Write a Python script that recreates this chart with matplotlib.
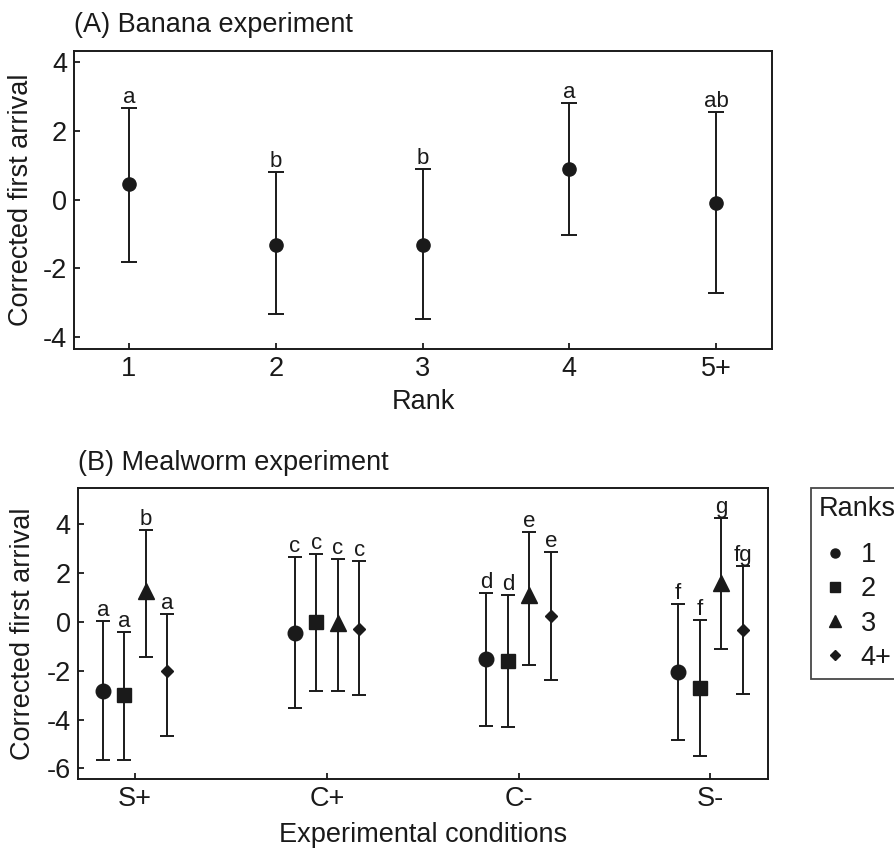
import numpy as np
import matplotlib.pyplot as plt
from matplotlib.lines import Line2D

plt.rcParams['font.family'] = ['Liberation Sans', 'DejaVu Sans']
plt.rcParams['axes.unicode_minus'] = False

# Panel A - banana experiment
ranks_a = ['1', '2', '3', '4', '5+']
mean_a = [0.44, -1.31, -1.31, 0.89, -0.10]
upper_a = [2.67, 0.79, 0.89, 2.81, 2.56]
lower_a = [-1.81, -3.32, -3.49, -1.04, -2.71]
letters_a = ['a', 'b', 'b', 'a', 'ab']

# Panel B - mealworm experiment
conditions = ['S+', 'C+', 'C-', 'S-']
rank_labels = ['1', '2', '3', '4+']
markers = ['o', 's', '^', 'D']
msizes = [10.5, 10, 12, 6.5]
leg_sizes = [6.5, 7, 8, 4.8]
mean_b = [[-2.85, -0.45, -1.53, -2.05],
          [-3.01, 0.00, -1.60, -2.70],
          [1.27, -0.04, 1.09, 1.60],
          [-2.01, -0.29, 0.23, -0.31]]
upper_b = [[0.03, 2.66, 1.19, 0.75],
           [-0.42, 2.79, 1.12, 0.10],
           [3.77, 2.58, 3.69, 4.28],
           [0.33, 2.51, 2.87, 2.30]]
lower_b = [[-5.64, -3.51, -4.25, -4.82],
           [-5.64, -2.83, -4.32, -5.49],
           [-1.45, -2.83, -1.75, -1.09],
           [-4.67, -3.01, -2.39, -2.94]]
letters_b = [['a', 'c', 'd', 'f'],
             ['a', 'c', 'd', 'f'],
             ['b', 'c', 'e', 'g'],
             ['a', 'c', 'e', 'fg']]
offsets = [-0.168, -0.056, 0.056, 0.168]

FS = 19.5
ink = '#1a1a1a'

fig = plt.figure(figsize=(8.94, 8.49), dpi=100)

def style_axes(ax):
    for s in ax.spines.values():
        s.set_linewidth(1.4)
        s.set_color(ink)
    ax.tick_params(direction='in', length=4, width=1.3, labelsize=FS, colors=ink,
                   top=False, right=False, pad=5)

# ---- (A)
axA = fig.add_axes([0.0828, 0.5889, 0.7807, 0.351])
xa = np.arange(1, len(ranks_a) + 1)
m = np.array(mean_a)
yerr = [m - np.array(lower_a), np.array(upper_a) - m]
axA.errorbar(xa, m, yerr=yerr, fmt='o', color=ink, ms=9.5, elinewidth=1.4,
             capsize=6, capthick=1.4)
for x, u, l in zip(xa, upper_a, letters_a):
    axA.annotate(l, (x, u), xytext=(0, 0), textcoords='offset points',
                 ha='center', va='bottom', fontsize=16, color=ink)
axA.set_xticks(xa)
axA.set_xticklabels(ranks_a)
axA.set_xlim(0.626, 5.38)
axA.set_ylim(-4.35, 4.32)
axA.set_yticks([-4, -2, 0, 2, 4])
axA.set_xlabel('Rank', fontsize=FS, color=ink)
axA.set_ylabel('Corrected first arrival', fontsize=FS, color=ink)
axA.xaxis.set_label_coords(0.5, -0.135)
axA.yaxis.set_label_coords(-0.058, 0.5)
style_axes(axA)
fig.text(0.0828, 0.970, '(A) Banana experiment', fontsize=FS, va='center', ha='left',
         color=ink)

# ---- (B)
axB = fig.add_axes([0.0869, 0.0821, 0.7721, 0.3428])
xb = np.arange(1, len(conditions) + 1)
for i in range(len(rank_labels)):
    m = np.array(mean_b[i])
    yerr = [m - np.array(lower_b[i]), np.array(upper_b[i]) - m]
    axB.errorbar(xb + offsets[i], m, yerr=yerr, fmt=markers[i], color=ink,
                 ms=msizes[i], elinewidth=1.4, capsize=5, capthick=1.4)
    for x, u, l in zip(xb + offsets[i], upper_b[i], letters_b[i]):
        axB.annotate(l, (x, u), xytext=(0, 0), textcoords='offset points',
                     ha='center', va='bottom', fontsize=16, color=ink)
axB.set_xticks(xb)
axB.set_xticklabels(conditions)
axB.set_xlim(0.70, 4.30)
axB.set_ylim(-6.45, 5.48)
axB.set_yticks([-6, -4, -2, 0, 2, 4])
axB.set_xlabel('Experimental conditions', fontsize=FS, color=ink)
axB.set_ylabel('Corrected first arrival', fontsize=FS, color=ink)
axB.xaxis.set_label_coords(0.5, -0.147)
axB.yaxis.set_label_coords(-0.061, 0.5)
style_axes(axB)
fig.text(0.0869, 0.4546, '(B) Mealworm experiment', fontsize=FS, va='center', ha='left',
         color=ink)

leg_handles = [Line2D([], [], marker=mk, ls='none', color=ink, ms=s)
               for mk, s in zip(markers, leg_sizes)]
leg = fig.legend(leg_handles, rank_labels, title='Ranks', loc='upper left',
                 bbox_to_anchor=(0.907, 0.4252), bbox_transform=fig.transFigure,
                 borderaxespad=0, fontsize=FS, title_fontsize=FS, frameon=True,
                 fancybox=False, edgecolor=ink, handlelength=1.2,
                 handletextpad=0.33, labelspacing=0.3, borderpad=0.3,
                 alignment='left')
leg._legend_box.sep = 14.5  # gap between title and entries
leg.get_frame().set_linewidth(1.3)
for t in leg.get_texts():
    t.set_color(ink)
leg.get_title().set_color(ink)

fig.savefig('out.png', dpi=100)
